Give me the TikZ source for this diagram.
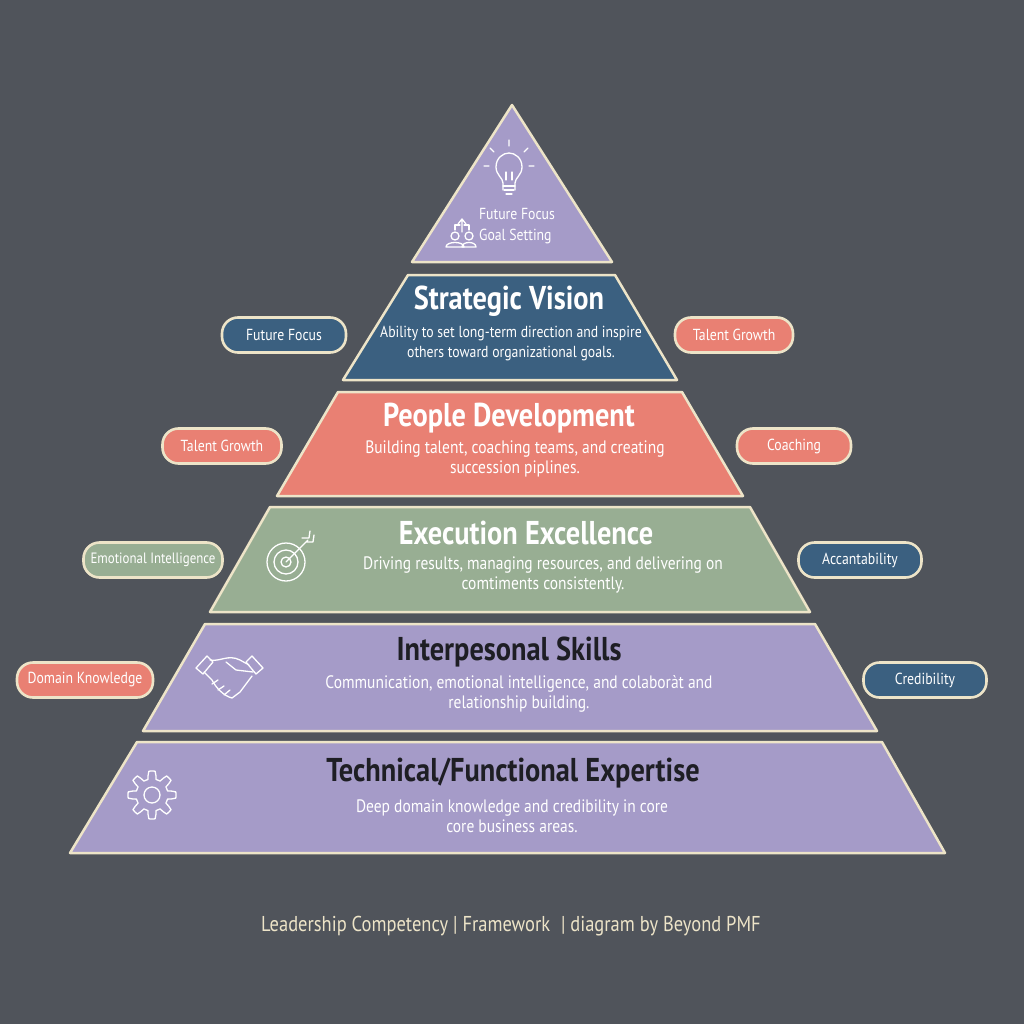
\documentclass[tikz,border=0pt]{standalone}
\usepackage{fontspec}
\setmainfont{PT Sans}[FakeStretch=0.86]
\begin{document}
\begin{tikzpicture}[x=1pt,y=-1pt,
  layer/.style={draw=cream,line width=2.5pt,line join=round},
  pill/.style={draw=cream,line width=2.6pt,rounded corners=16pt,minimum height=35pt,inner xsep=3pt,font=\fontsize{16}{16}\selectfont,text=white},
  ttl/.style={font=\bfseries\fontsize{33}{33}\selectfont},
  desc/.style={font=\fontsize{18}{20}\selectfont,align=center},
  ico/.style={draw=white,line width=1.3pt,line cap=round,line join=round}]
\definecolor{bg}{HTML}{50545B}
\definecolor{cream}{HTML}{EDE4C8}
\definecolor{lav}{HTML}{A59BC8}
\definecolor{dblue}{HTML}{3B6080}
\definecolor{salmon}{HTML}{E98073}
\definecolor{sage}{HTML}{98AE93}
\definecolor{dark}{HTML}{1E1E24}
\fill[bg] (0,0) rectangle (1024,1024);
\useasboundingbox (0,0) rectangle (1024,1024);
% layers
\draw[layer,fill=lav] (512,105) -- (612,262) -- (412,262) -- cycle;
\draw[layer,fill=dblue] (408,275) -- (615,275) -- (677,380) -- (343,380) -- cycle;
\draw[layer,fill=salmon] (338,392) -- (682,392) -- (743,496) -- (277,496) -- cycle;
\draw[layer,fill=sage] (270,507) -- (750,507) -- (810,612) -- (210,612) -- cycle;
\draw[layer,fill=lav] (205,624) -- (815,624) -- (877,731) -- (143,731) -- cycle;
\draw[layer,fill=lav] (137,742) -- (882,742) -- (945,853) -- (70,853) -- cycle;
% top
\node[text=white,font=\fontsize{16}{21}\selectfont,align=left] (top) at (517,226) {Future Focus\\Goal Setting};
\begin{scope}[ico]
 \draw (503,190) -- (503,183) .. controls (503,178) and (496,175) .. (496,167) .. controls (496,158) and (503,153) .. (509,153) .. controls (515,153) and (522,158) .. (522,167) .. controls (522,175) and (515,178) .. (515,183) -- (515,190);
 \draw (503,186) -- (515,186) (504,190) -- (514,190) (506,194) -- (512,194);
 \draw (506,180) -- (506,172) (512,180) -- (512,172);
 \draw (509,140) -- (509,146) (490,148) -- (494,152) (528,148) -- (524,152) (484,166) -- (489,166) (529,166) -- (534,166);
 \draw (455,236) circle (4);
 \draw (446,247) .. controls (446,241) and (464,241) .. (464,247) -- (446,247);
 \draw (469,236) circle (4) (462,247) .. controls (462,241) and (476,241) .. (476,247) -- (462,247);
 \draw (462,232) -- (462,220) (458,224) -- (462,219) -- (466,224);
 \draw (455,230) -- (455,225) -- (460,225) (469,230) -- (469,225) -- (464,225);
\end{scope}
% titles & descriptions
\node[ttl,text=white] (sv) at (509,301) {Strategic Vision};
\node[desc,text=white,font=\fontsize{16}{20}\selectfont] (svd) at (511,344) {Ability to set long-term direction and inspire\\others toward organizational goals.};
\node[ttl,text=white] (pd) at (509,418) {People Development};
\node[desc,text=white] (pdd) at (515,459) {Building talent, coaching teams, and creating\\succession piplines.};
\node[ttl,text=white] (ee) at (526,533) {Execution Excellence};
\node[desc,text=white] (eed) at (543,575) {Driving results, managing resources, and delivering on\\comtiments consistently.};
\node[ttl,text=dark] (is) at (509,652) {Interpesonal Skills};
\node[desc,text=white] (isd) at (519,694) {Communication, emotional intelligence, and colabor\`at and\\relationship building.};
\node[ttl,text=dark] (te) at (513,773) {Technical/Functional Expertise};
\node[desc,text=white] (ted) at (512,816) {Deep domain knowledge and credibility in core\\core business areas.};
% target icon
\begin{scope}[ico]
 \draw (286,562) circle (19) (286,562) circle (12) (286,562) circle (5);
 \draw (286,562) -- (308,540) (302,538) -- (309,538) -- (310,531) (306,542) -- (313,542) -- (314,535);
\end{scope}
% handshake
\begin{scope}[ico]
 \draw (196,668) -- (207,656) -- (213,662) -- (203,674) -- cycle;
 \draw (263,668) -- (252,656) -- (246,662) -- (256,674) -- cycle;
 \draw (210,660) .. controls (220,662) and (228,654) .. (240,660) -- (249,665);
 \draw (226,662) -- (236,670) -- (253,672);
 \draw (204,672) -- (212,680) .. controls (216,688) and (224,696) .. (232,698) -- (240,692) -- (252,676);
 \draw (212,684) -- (218,680) (218,690) -- (224,686) (224,695) -- (230,690);
\end{scope}
% gear
\begin{scope}[ico,shift={(152,795)}]
 \draw (0,0) circle (8);
 \draw plot[domain=0:360,samples=97] ({(20+4*sign(cos(8*\x)))*cos(\x)},{(20+4*sign(cos(8*\x)))*sin(\x)});
\end{scope}
% pills
\node[pill,fill=dblue,minimum width=124pt] (p1) at (284,335) {Future Focus};
\node[pill,fill=salmon,minimum width=118pt] (p2) at (734,335) {Talent Growth};
\node[pill,fill=salmon,minimum width=119pt] (p3) at (222,446) {Talent Growth};
\node[pill,fill=salmon,minimum width=114pt] (p4) at (794,446) {Coaching};
\node[pill,fill=sage,minimum width=139pt,font=\fontsize{15}{15}\selectfont] (p5) at (153,560) {Emotional Intelligence};
\node[pill,fill=dblue,minimum width=123pt] (p6) at (860,560) {Accantability};
\node[pill,fill=salmon,minimum width=136pt] (p7) at (85,680) {Domain Knowledge};
\node[pill,fill=dblue,minimum width=123pt] (p8) at (925,680) {Credibility};
% footer
\node[text=cream,font=\fontsize{21.5}{21.5}\selectfont] (ft) at (511,926) {Leadership Competency | Framework \;| diagram by Beyond PMF};
\end{tikzpicture}
\end{document}
